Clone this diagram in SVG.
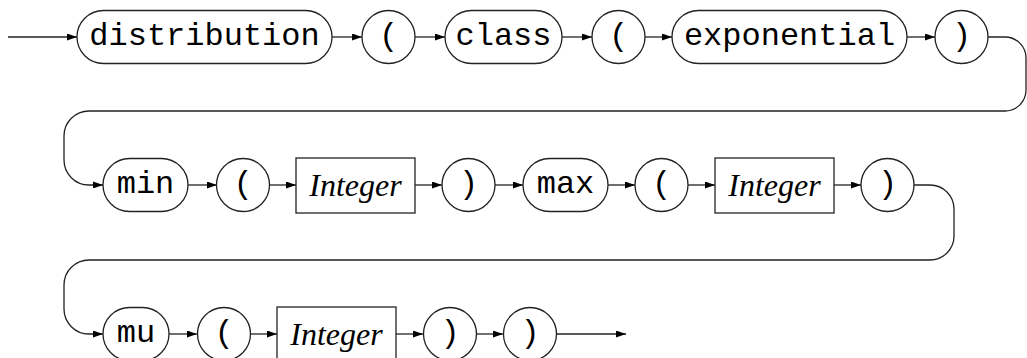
<svg xmlns="http://www.w3.org/2000/svg" width="1027" height="358" viewBox="0 0 1027 358">
<style>
.n{fill:#fff;stroke:#222;stroke-width:1.3}
.c{fill:none;stroke:#222;stroke-width:1.3}
.t{font-family:"Liberation Mono","DejaVu Sans Mono",monospace;font-size:32px;fill:#000;text-anchor:middle}
.s{font-family:"Liberation Serif","DejaVu Serif",serif;font-style:italic;font-size:32px;fill:#000;text-anchor:middle}
</style>
<defs>
<marker id="a" markerUnits="userSpaceOnUse" markerWidth="10" markerHeight="7" refX="10" refY="3.5" orient="auto">
<path d="M0,0 L10,3.5 L0,7 z" fill="#000"/>
</marker>
</defs>
<rect width="1027" height="358" fill="#fff"/>
<g id="connectors">
<line class="c" x1="8" y1="37" x2="77" y2="37" marker-end="url(#a)"/>
<line class="c" x1="332" y1="37" x2="362" y2="37" marker-end="url(#a)"/>
<line class="c" x1="415" y1="37" x2="445" y2="37" marker-end="url(#a)"/>
<line class="c" x1="562" y1="37" x2="592" y2="37" marker-end="url(#a)"/>
<line class="c" x1="645" y1="37" x2="672" y2="37" marker-end="url(#a)"/>
<line class="c" x1="907" y1="37" x2="935" y2="37" marker-end="url(#a)"/>
<path class="c" d="M988,37 H1005 A21,21 0 0 1 1026,58 V90 A21,21 0 0 1 1005,111 H89 A25,25 0 0 0 64,136 V160 A25,25 0 0 0 89,185 H103" marker-end="url(#a)"/>
<line class="c" x1="188" y1="185" x2="217" y2="185" marker-end="url(#a)"/>
<line class="c" x1="269" y1="185" x2="296" y2="185" marker-end="url(#a)"/>
<line class="c" x1="415" y1="185" x2="442" y2="185" marker-end="url(#a)"/>
<line class="c" x1="495" y1="185" x2="523" y2="185" marker-end="url(#a)"/>
<line class="c" x1="608" y1="185" x2="635" y2="185" marker-end="url(#a)"/>
<line class="c" x1="688" y1="185" x2="715" y2="185" marker-end="url(#a)"/>
<line class="c" x1="834" y1="185" x2="861" y2="185" marker-end="url(#a)"/>
<path class="c" d="M914,185 H930 A24,24 0 0 1 954,209 V236 A24,24 0 0 1 930,260 H89 A25,25 0 0 0 64,285 V309 A25,25 0 0 0 89,334 H103" marker-end="url(#a)"/>
<line class="c" x1="169" y1="334" x2="197" y2="334" marker-end="url(#a)"/>
<line class="c" x1="251" y1="334" x2="277" y2="334" marker-end="url(#a)"/>
<line class="c" x1="396" y1="334" x2="423" y2="334" marker-end="url(#a)"/>
<line class="c" x1="477" y1="334" x2="503" y2="334" marker-end="url(#a)"/>
<line class="c" x1="557" y1="334" x2="626" y2="334" marker-end="url(#a)"/>
</g>
<g id="n-distribution"><rect class="n" x="77" y="10.5" width="255" height="53" rx="26.5"/><text class="t" x="204.5" y="45">distribution</text></g>
<g id="n-lp1"><circle class="n" cx="388.5" cy="37" r="26.5"/><text class="t" x="388.5" y="45">(</text></g>
<g id="n-class"><rect class="n" x="445" y="10.5" width="117" height="53" rx="26.5"/><text class="t" x="503.5" y="45">class</text></g>
<g id="n-lp2"><circle class="n" cx="618.5" cy="37" r="26.5"/><text class="t" x="618.5" y="45">(</text></g>
<g id="n-exponential"><rect class="n" x="672" y="10.5" width="235" height="53" rx="26.5"/><text class="t" x="789.5" y="45">exponential</text></g>
<g id="n-rp1"><circle class="n" cx="961.5" cy="37" r="26.5"/><text class="t" x="961.5" y="45">)</text></g>

<g id="n-min"><rect class="n" x="103" y="158.5" width="85" height="53" rx="26.5"/><text class="t" x="145.5" y="193">min</text></g>
<g id="n-lp3"><circle class="n" cx="243" cy="185" r="26.5"/><text class="t" x="243" y="193">(</text></g>
<g id="n-int1"><rect class="n" x="296" y="158" width="119" height="55"/><text class="s" x="355.5" y="196">Integer</text></g>
<g id="n-rp2"><circle class="n" cx="468.5" cy="185" r="26.5"/><text class="t" x="468.5" y="193">)</text></g>
<g id="n-max"><rect class="n" x="523" y="158.5" width="85" height="53" rx="26.5"/><text class="t" x="565.5" y="193">max</text></g>
<g id="n-lp4"><circle class="n" cx="661.5" cy="185" r="26.5"/><text class="t" x="661.5" y="193">(</text></g>
<g id="n-int2"><rect class="n" x="715" y="158" width="119" height="55"/><text class="s" x="774.5" y="196">Integer</text></g>
<g id="n-rp3"><circle class="n" cx="887.5" cy="185" r="26.5"/><text class="t" x="887.5" y="193">)</text></g>

<g id="n-mu"><rect class="n" x="103" y="307.5" width="66" height="53" rx="26.5"/><text class="t" x="136" y="342">mu</text></g>
<g id="n-lp5"><circle class="n" cx="224" cy="334" r="26.5"/><text class="t" x="224" y="342">(</text></g>
<g id="n-int3"><rect class="n" x="277" y="307" width="119" height="55"/><text class="s" x="336.5" y="345">Integer</text></g>
<g id="n-rp4"><circle class="n" cx="450" cy="334" r="26.5"/><text class="t" x="450" y="342">)</text></g>
<g id="n-rp5"><circle class="n" cx="530" cy="334" r="26.5"/><text class="t" x="530" y="342">)</text></g>
</svg>
